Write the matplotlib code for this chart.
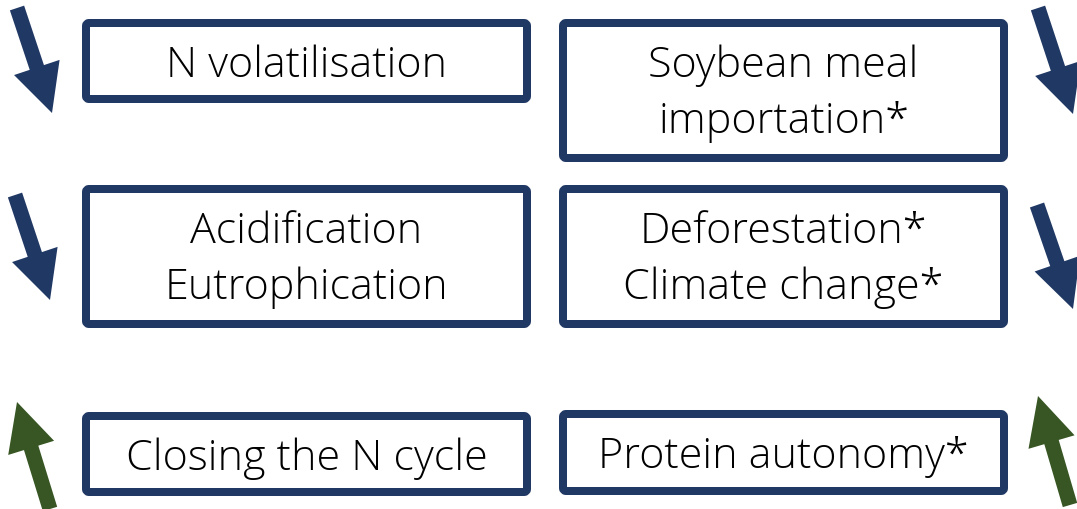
import matplotlib
matplotlib.use("Agg")
import matplotlib.pyplot as plt
from matplotlib.patches import FancyBboxPatch, FancyArrow

# ---- content ----
left_labels = ["N volatilisation", "Acidification\nEutrophication", "Closing the N cycle"]
right_labels = ["Soybean meal\nimportation*", "Deforestation*\nClimate change*", "Protein autonomy*"]
trends = ["down", "down", "up"]          # per row, both sides

NAVY = "#203864"
GREEN = "#375623"

W, H = 1077, 510
fig = plt.figure(figsize=(W / 100, H / 100), dpi=100)
ax = fig.add_axes([0, 0, 1, 1])
ax.set_xlim(0, W)
ax.set_ylim(H, 0)
ax.axis("off")

lw_px = 8
lw_pt = lw_px * 72 / 100

# box outer extents (x0, x1) per column, (y0, y1) per row and column
cols = [(82, 531), (559, 1008)]
rows_left = [(20, 104), (186, 329), (413, 497)]
rows_right = [(20, 163), (186, 329), (411, 496)]

FONT = dict(family=["Open Sans", "DejaVu Sans"], fontweight="light", fontsize=31, color="black")

def box(x0, x1, y0, y1, text):
    h = lw_px / 2
    p = FancyBboxPatch((x0 + h, y0 + h), (x1 - x0) - lw_px, (y1 - y0) - lw_px,
                       boxstyle="round,pad=0,rounding_size=3",
                       fc="white", ec=NAVY, lw=lw_pt, joinstyle="round")
    ax.add_patch(p)
    off = 2 if "\n" in text else 3.5
    ax.text((x0 + x1) / 2, (y0 + y1) / 2 + off, text, ha="center", va="center",
            linespacing=1.42, **FONT)

for (y0, y1), t in zip(rows_left, left_labels):
    box(cols[0][0], cols[0][1], y0, y1, t)
for (y0, y1), t in zip(rows_right, right_labels):
    box(cols[1][0], cols[1][1], y0, y1, t)

# arrows: (tail, tip)
arrow_geom = [
    ((17, 9), (52, 114)),
    ((1038, 9), (1073, 115)),
    ((15, 196), (50, 301)),
    ((1037, 206), (1073, 310)),
    ((50, 510), (17, 403)),
    ((1070, 506), (1038, 397)),
]
arrow_rows = [0, 0, 1, 1, 2, 2]

for (t, h), r in zip(arrow_geom, arrow_rows):
    c = NAVY if trends[r] == "down" else GREEN
    a = FancyArrow(t[0], t[1], h[0] - t[0], h[1] - t[1], width=15, head_width=48,
                   head_length=48, length_includes_head=True, fc=c, ec=c, lw=0)
    ax.add_patch(a)

fig.savefig("out.png", dpi=100, facecolor="white")
